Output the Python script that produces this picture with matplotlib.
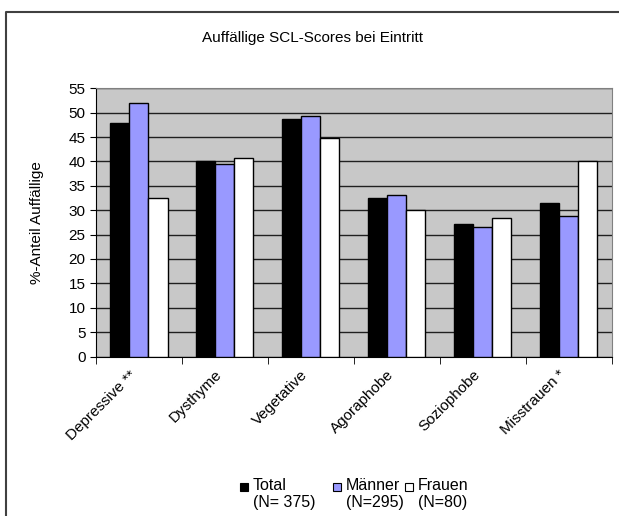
import numpy as np
import matplotlib.pyplot as plt
import matplotlib.transforms as mtransforms

plt.rcParams['font.family'] = ['Liberation Sans', 'DejaVu Sans']

categories = ['Depressive **', 'Dysthyme', 'Vegetative', 'Agoraphobe', 'Soziophobe', 'Misstrauen *']
total = [47.9, 40.0, 48.6, 32.6, 27.1, 31.4]
maenner = [51.9, 39.5, 49.3, 33.2, 26.6, 28.9]
frauen = [32.4, 40.8, 44.9, 30.1, 28.3, 40.0]
series_labels = ['Total\n(N= 375)', 'Männer\n(N=295)', 'Frauen\n(N=80)']
colors = ['black', '#9999FF', 'white']

W, H = 619, 516
fig = plt.figure(figsize=(W / 100, H / 100), dpi=100)
ax = fig.add_axes([0.155, 0.309, 0.833, 0.520])
ax.set_facecolor('#C8C8C8')

x = np.arange(len(categories))
w = 0.222
for i, (vals, c, lab) in enumerate(zip([total, maenner, frauen], colors, series_labels)):
    ax.bar(x + (i - 1) * w, vals, w, color=c, edgecolor='black', linewidth=1, label=lab, zorder=3)

ax.set_xlim(-0.5, len(categories) - 0.5)
ax.set_ylim(0, 55)
ax.set_yticks(np.arange(0, 56, 5))
ax.yaxis.grid(True, color='#202020', linewidth=1, zorder=0)
ax.set_axisbelow(True)

ax.set_xticks(x)
ax.set_xticklabels(categories, rotation=45, ha='right', rotation_mode='anchor', fontsize=11)
ax.tick_params(axis='x', length=0, pad=8)
shift = mtransforms.ScaledTranslation(-10 / 100, 0, fig.dpi_scale_trans)
for lbl in ax.get_xticklabels():
    lbl.set_transform(lbl.get_transform() + shift)
ax.set_xticks(np.arange(-0.5, len(categories), 1), minor=True)
ax.tick_params(axis='x', which='minor', length=5, color='black')
ax.tick_params(axis='y', labelsize=11, length=4)
for s in ['top', 'right']:
    ax.spines[s].set_color('#808080')
ax.spines['left'].set_color('black')
ax.spines['bottom'].set_color('black')

ax.set_ylabel('%-Anteil Auffällige', fontsize=11, labelpad=18)
fig.text(0.505, 0.926, 'Auffällige SCL-Scores bei Eintritt', ha='center', va='center', fontsize=11)

# legend by hand: square next to the first text line, like the Excel original
sq_x = [240, 333, 405]
for sx, c, lab in zip(sq_x, colors, series_labels):
    fig.patches.append(plt.Rectangle((sx / W, 1 - 491 / H), 8 / W, 8 / H, transform=fig.transFigure,
                                     facecolor=c, edgecolor='black', linewidth=0.8))
    fig.text((sx + 13) / W, 1 - 478 / H, lab, ha='left', va='top', fontsize=11.5, linespacing=1.15)

# frame line on left and top only (as in the reference crop)
fig.add_artist(plt.Line2D([6 / W, 6 / W, 1.0], [0.0, 1 - 12 / H, 1 - 12 / H],
                          transform=fig.transFigure, color='#404040', linewidth=1.5))

fig.savefig('out.png', dpi=100)
